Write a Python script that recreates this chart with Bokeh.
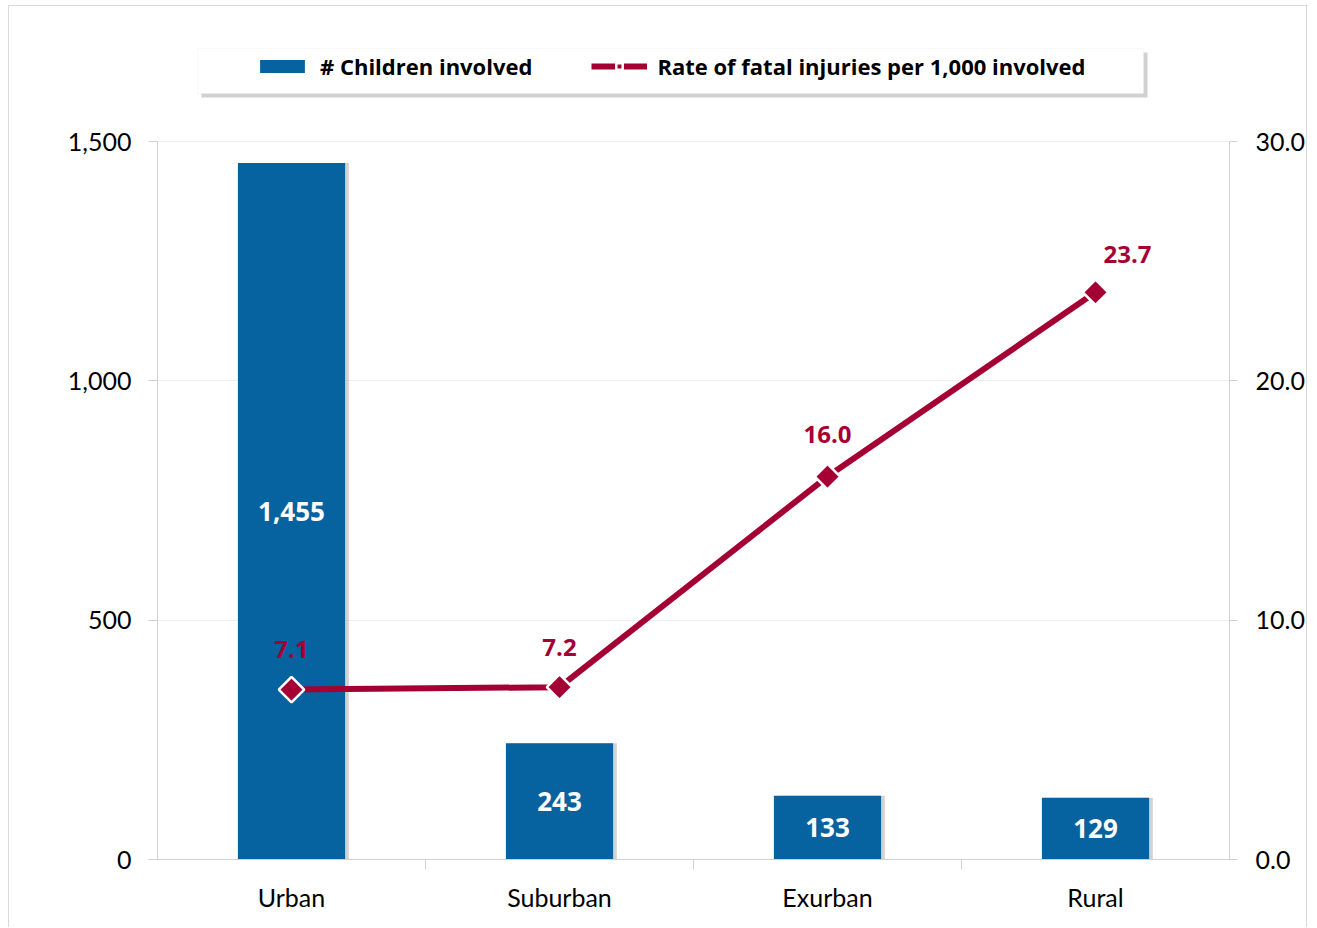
import math
from bokeh.plotting import figure
from bokeh.core.properties import value
from bokeh.models import (ColumnDataSource, Range1d, LinearAxis, CategoricalAxis, FixedTicker,
                          NumeralTickFormatter, LabelSet, Legend, LegendItem, BoxAnnotation,
                          FactorRange)
from bokeh.transform import dodge
from bokeh.embed import file_html
from bokeh.resources import INLINE

categories = ["Urban", "Suburban", "Exurban", "Rural"]
children = [1455, 243, 133, 129]
rates = [7.1, 7.2, 16.0, 23.7]
left_ticks = [0, 500, 1000, 1500]
right_ticks = [0, 10, 20, 30]
boundaries = ["b0", "b1", "b2", "b3", "b4"]

BLUE = "#0762A0"
RED = "#A50034"
FONT = "Lato"
BOLD_FONT = "Open Sans"
AXIS_GREY = "#d0d0d0"

# canvas geometry (canvas is offset by the CSS margin + border: 9px left, 6px top)
W, H = 1299, 922
FRAME_BOTTOM_PAD = 69
TOP_PX = 135          # canvas y of the 1,500 / 30.0 line
frame_h = H - FRAME_BOTTOM_PAD
scale_up = frame_h / (frame_h - TOP_PX)

src = ColumnDataSource(dict(
    cat=categories,
    n=children,
    mid=[v / 2 for v in children],
    nlab=[f"{v:,}" for v in children],
    rate=rates,
    rlab=[f"{r:.1f}" for r in rates],
    rx=[0, 0, 0, 32],
    ry=[40, 40, 42, 38],
))

p = figure(width=W, height=H,
           x_range=FactorRange(factors=categories, range_padding=0),
           y_range=Range1d(0, left_ticks[-1] * scale_up),
           x_axis_location=None,
           output_backend="svg", toolbar_location=None,
           min_border_left=148, min_border_right=79, min_border_top=0,
           min_border_bottom=FRAME_BOTTOM_PAD,
           background_fill_color="white", border_fill_color="white")
p.title.visible = False
p.styles = {"margin-left": "8px", "margin-top": "5px",
            "border-left": "1px solid #d9d9d9", "border-top": "1px solid #d9d9d9",
            "border-right": "1px solid #d9d9d9"}
p.outline_line_color = None
p.extra_y_ranges = {"rate": Range1d(0, right_ticks[-1] * scale_up)}
# factor range whose factors sit on the category boundaries
p.extra_x_ranges = {"bnd": FactorRange(factors=boundaries, range_padding=-0.5,
                                       range_padding_units="absolute")}

# left axis
ya = p.yaxis[0]
ya.bounds = (left_ticks[0], left_ticks[-1])
ya.ticker = FixedTicker(ticks=left_ticks)
ya.formatter = NumeralTickFormatter(format="0,0")
ya.axis_line_color = AXIS_GREY
ya.major_tick_line_color = AXIS_GREY
ya.major_tick_out = 9
ya.major_tick_in = 0
ya.minor_tick_line_color = None
ya.major_label_text_font = FONT
ya.major_label_text_font_size = "25px"
ya.major_label_text_color = "#000000"
ya.major_label_standoff = 17

# right axis
ra = LinearAxis(y_range_name="rate", ticker=FixedTicker(ticks=right_ticks),
                formatter=NumeralTickFormatter(format="0.0"))
ra.bounds = (right_ticks[0], right_ticks[-1])
ra.axis_line_color = AXIS_GREY
ra.major_tick_line_color = AXIS_GREY
ra.major_tick_out = 8
ra.major_tick_in = 0
ra.minor_tick_line_color = None
ra.major_label_text_font = FONT
ra.major_label_text_font_size = "25px"
ra.major_label_text_color = "#000000"
ra.major_label_standoff = 18
p.add_layout(ra, "right")

# bottom: boundary ticks + category labels
ba = CategoricalAxis(x_range_name="bnd")
ba.axis_line_color = AXIS_GREY
ba.major_tick_line_color = AXIS_GREY
ba.major_tick_out = 10
ba.major_tick_in = 0
ba.major_label_text_font_size = "0px"
ba.major_label_text_color = None
ba.major_label_standoff = 0
p.add_layout(ba, "below")

ca = CategoricalAxis()
ca.axis_line_color = None
ca.major_tick_line_color = None
ca.major_label_text_font = FONT
ca.major_label_text_font_size = "25px"
ca.major_label_text_color = "#000000"
ca.major_label_standoff = 6
p.add_layout(ca, "below")

p.xgrid.visible = False
p.ygrid.ticker = FixedTicker(ticks=[500, 1000, 1500])
p.ygrid.grid_line_color = "#eeeeee"
p.ygrid.grid_line_width = 1

# bars with soft shadow
p.vbar(x=dodge("cat", 0.014, range=p.x_range), top="n", width=0.4, source=src,
       fill_color="#7f7f7f", fill_alpha=0.35, line_color=None)
bars = p.vbar(x="cat", top="n", width=0.4, source=src, fill_color=BLUE, line_color=None)

line = p.line("cat", "rate", source=src, y_range_name="rate", line_width=6, line_color=RED)
pts = p.scatter("cat", "rate", source=src, y_range_name="rate", marker="square",
                angle=math.pi / 4, size=18, fill_color=RED, line_color="white", line_width=2.5)

p.add_layout(LabelSet(x="cat", y="mid", text="nlab", source=src, text_align="center",
                      text_baseline="middle", text_color="white", text_font=value(BOLD_FONT),
                      text_font_size="26px", text_font_style="bold"))
p.add_layout(LabelSet(x="cat", y="rate", text="rlab", source=src, y_range_name="rate",
                      x_offset="rx", y_offset="ry", text_align="center",
                      text_baseline="middle", text_color=RED, text_font=value(BOLD_FONT),
                      text_font_size="24px", text_font_style="bold"))

# legend box + shadow (canvas coordinates)
p.add_layout(BoxAnnotation(left=191, right=1137, top=45, bottom=90,
                           left_units="canvas", right_units="canvas",
                           top_units="canvas", bottom_units="canvas",
                           fill_color="#9a9a9a", fill_alpha=0.45, line_color=None))
p.add_layout(BoxAnnotation(left=187, right=1133, top=41, bottom=86,
                           left_units="canvas", right_units="canvas",
                           top_units="canvas", bottom_units="canvas",
                           fill_color="white", fill_alpha=1.0, line_color="#ececec"))

legend = Legend(items=[
    LegendItem(label="# Children involved", renderers=[bars]),
    LegendItem(label="Rate of fatal injuries per 1,000 involved", renderers=[line, pts]),
], location=(97, frame_h - 75), orientation="horizontal")
legend.background_fill_alpha = 0
legend.border_line_color = None
legend.padding = 0
legend.margin = 0
legend.spacing = 59
legend.glyph_width = 56
legend.glyph_height = 16
legend.label_standoff = 10
legend.label_text_font = BOLD_FONT
legend.label_text_font_size = "22px"
legend.label_text_font_style = "bold"
legend.label_text_color = "#000000"
legend.label_height = 22
p.add_layout(legend)

open("out.html", "w").write(file_html(p, INLINE))
